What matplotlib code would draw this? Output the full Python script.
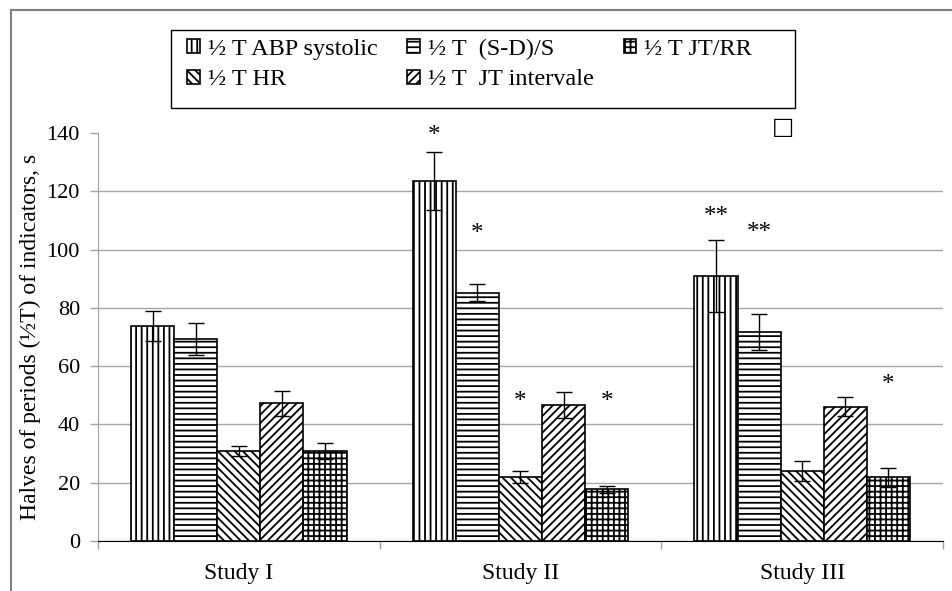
import numpy as np
import matplotlib.pyplot as plt
from matplotlib.lines import Line2D
from matplotlib.patches import Rectangle

plt.rcParams['font.family'] = ['Liberation Serif', 'DejaVu Serif']
plt.rcParams['hatch.linewidth'] = 1.3

# Datos
studies = ["Study I", "Study II", "Study III"]
series = ["½ T ABP systolic", "½ T  (S-D)/S", "½ T HR", "½ T  JT intervale", "½ T JT/RR"]
values = [
    [73.8, 123.6, 90.9],   # ABP systolic
    [69.3, 85.2, 71.6],    # (S-D)/S
    [30.9, 21.9, 24.0],    # HR
    [47.2, 46.7, 46.1],    # JT intervale
    [30.9, 17.7, 21.9],    # JT/RR
]
errors = [
    [5.2, 10.0, 12.4],
    [5.4, 3.0, 6.2],
    [1.7, 2.1, 3.3],
    [4.4, 4.5, 3.3],
    [2.7, 1.2, 3.3],
]
hatches = ["|||", "---", "\\\\\\\\", "////", "+++"]

# Marcas de significación: (serie, estudio, texto, altura)
stars = [
    (0, 1, "*", 139.0), (1, 1, "*", 105.4), (2, 1, "*", 47.7), (4, 1, "*", 47.7),
    (0, 2, "**", 111.0), (1, 2, "**", 105.8), (4, 2, "*", 53.6),
]

fig = plt.figure(figsize=(9.53, 5.91), dpi=100)
ax = fig.add_axes([0.1028, 0.0846, 0.8867, 0.6904])

x = np.arange(len(studies))
w = 0.153
handles = []
for k, name in enumerate(series):
    pos = x + (k - 2) * w
    b = ax.bar(pos, values[k], w, color="white", edgecolor="black", linewidth=1.2,
               hatch=hatches[k], label=name, zorder=3)
    ax.errorbar(pos, values[k], yerr=errors[k], fmt="none", ecolor="black",
                elinewidth=1, capsize=6, capthick=1, zorder=4)
    handles.append(b)

for k, j, s, h in stars:
    ax.text(x[j] + (k - 2) * w, h, s, ha="center", va="center", fontsize=18)

ax.text(1.932, 142, "□", ha="center", va="center", fontsize=17,
        family=["DejaVu Sans"])

ax.set_xlim(-0.5, 2.5)
ax.set_ylim(0, 140)
ax.set_yticks(np.arange(0, 141, 20))
ax.yaxis.grid(True, color="#a6a6a6", linewidth=1, zorder=0)
ax.get_ygridlines()[-1].set_visible(False)
ax.set_axisbelow(True)

ax.set_xticks([-0.5, 0.5, 1.5, 2.5])
ax.set_xticklabels([])
ax.set_xticks(x, minor=True)
ax.set_xticklabels(studies, minor=True)
ax.tick_params(axis="x", which="major", length=6, color="#a0a0a0", width=1)
ax.tick_params(axis="x", which="minor", length=0, pad=16, labelsize=17)
ax.tick_params(axis="y", length=6, color="#a0a0a0", width=1, pad=7, labelsize=16)

ax.spines["top"].set_visible(False)
ax.spines["right"].set_visible(False)
ax.spines["left"].set_color("#a0a0a0")
ax.spines["bottom"].set_color("black")

ax.set_ylabel("Halves of periods (½T) of indicators, s", fontsize=17, labelpad=4)

order = [0, 2, 1, 3, 4]
leg = fig.legend([handles[i] for i in order], [series[i] for i in order],
                 loc="upper left", bbox_to_anchor=(185 / 953, 1 - 36 / 591),
                 borderaxespad=0, ncol=3, fontsize=17.5, frameon=False,
                 handlelength=0.5, handleheight=0.5,
                 handletextpad=0.35, columnspacing=1.22, borderpad=0.1,
                 labelspacing=0.4)

# Recuadro de la leyenda
fig.add_artist(Rectangle((171 / 953, 1 - 108 / 591), (795 - 171) / 953, 78 / 591,
                         transform=fig.transFigure, fill=False,
                         edgecolor="black", linewidth=1))

# Marco exterior
fig.add_artist(Line2D([11 / 953, 1], [1 - 10 / 591, 1 - 10 / 591],
                      color="#808080", linewidth=1.5))
fig.add_artist(Line2D([11 / 953, 11 / 953], [0, 1 - 10 / 591],
                      color="#808080", linewidth=1.5))

fig.savefig("out.png", dpi=100)
